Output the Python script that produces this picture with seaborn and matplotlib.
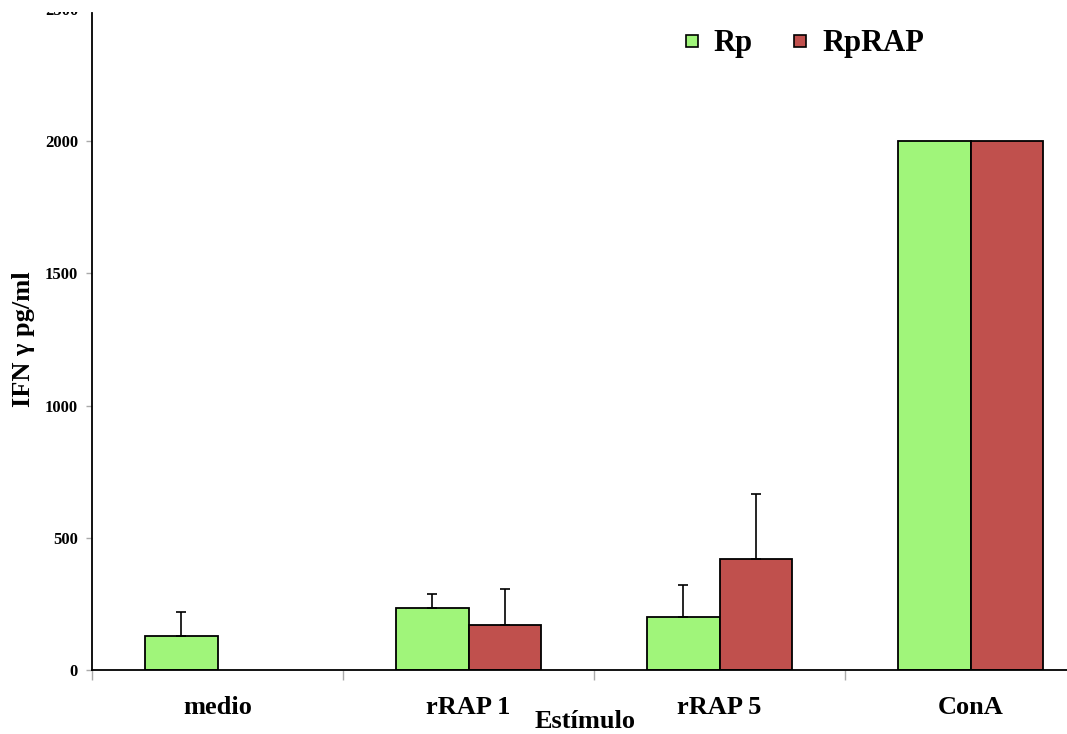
import matplotlib
matplotlib.use("Agg")
import matplotlib.pyplot as plt
import seaborn as sns
import pandas as pd
import numpy as np
from matplotlib.lines import Line2D
from matplotlib.transforms import Bbox

categories = ["medio", "rRAP 1", "rRAP 5", "ConA"]
groups = ["Rp", "RpRAP"]
rp_values = [128, 233, 199, 2000]
rprap_values = [np.nan, 169, 421, 2000]
rp_err = [90, 56, 124, 0]
rprap_err = [0, 139, 244, 0]
colors = ["#A0F57A", "#C0504D"]

sns.set_theme(style="white")
plt.rcParams['font.family'] = ['Liberation Serif', 'DejaVu Serif']
plt.rcParams['font.weight'] = 'bold'
plt.rcParams['text.color'] = 'black'
plt.rcParams['axes.labelcolor'] = 'black'
plt.rcParams['xtick.color'] = 'black'
plt.rcParams['ytick.color'] = 'black'

df = pd.DataFrame({
    "Estimulo": categories * 2,
    "grupo": [groups[0]] * 4 + [groups[1]] * 4,
    "valor": rp_values + rprap_values,
})

fig = plt.figure(figsize=(10.67, 7.34), dpi=100)
W, H = 1067, 734
left, right, top, bottom = 92, 1096, 9, 670
ax = fig.add_axes([left / W, 1 - bottom / H, (right - left) / W, (bottom - top) / H])

sns.barplot(data=df, x="Estimulo", y="valor", hue="grupo", palette=colors,
            order=categories, hue_order=groups, errorbar=None, width=0.574,
            edgecolor="black", linewidth=1.3, saturation=1, ax=ax, legend=False)

errs = [rp_err, rprap_err]
vals = [rp_values, rprap_values]
for ci, cont in enumerate(ax.containers[:2]):
    for bar in cont:
        xc = bar.get_x() + bar.get_width() / 2
        i = int(round(xc))
        v = vals[ci][i]
        e = errs[ci][i]
        if np.isnan(v) or e == 0:
            continue
        ax.errorbar([xc], [v], yerr=[[0], [e]], fmt="none", ecolor="black",
                    elinewidth=1.2, capsize=3.5, capthick=1.2, zorder=3)

ax.set_xlim(-0.5, 3.5)
ax.set_ylim(0, 2500)
ax.set_yticks([0, 500, 1000, 1500, 2000, 2500])
ax.set_yticklabels(["0", "500", "1000", "1500", "2000", "2500"], fontsize=12, fontweight="bold")
ax.set_xticks(range(4))
ax.set_xticklabels(categories, fontsize=19, fontweight="bold")
ax.set_xticks([-0.5, 0.5, 1.5, 2.5, 3.5], minor=True)
ax.tick_params(axis="x", which="both", bottom=True)
ax.tick_params(axis="y", which="both", left=True)
ax.tick_params(axis="x", which="major", length=0, pad=19)
ax.tick_params(axis="x", which="minor", length=7, color="#aaaaaa", direction="out", width=1)
ax.tick_params(axis="y", which="major", length=4, color="#aaaaaa", direction="out", width=1, pad=6)
ax.spines["left"].set_bounds(0, 2485)

# the top tick label is cut off in the reference
fig.canvas.draw()
ax.yaxis.get_major_ticks()[-1].tick1line.set_visible(False)
for lab in ax.get_yticklabels():
    if lab.get_text() == "2500":
        lab.set_clip_on(True)
        lab.set_clip_box(Bbox.from_extents(0, 0, W, H - 12))

for s in ["top", "right"]:
    ax.spines[s].set_visible(False)
for s in ["left", "bottom"]:
    ax.spines[s].set_color("black")
    ax.spines[s].set_linewidth(1.3)

ax.set_ylabel("IFN γ pg/ml", fontsize=19, fontweight="bold")
ax.yaxis.set_label_coords(-57 / (right - left), (670 - 339) / (bottom - top))
ax.set_xlabel("Estímulo", fontsize=19, fontweight="bold")
ax.xaxis.set_label_coords((585 - left) / (right - left), -40 / (bottom - top))

handles = [Line2D([], [], marker="s", linestyle="", markersize=8, markerfacecolor=c,
                  markeredgecolor="black", markeredgewidth=1.2) for c in colors]
fig.legend(handles, groups, loc="center left", bbox_to_anchor=(657 / W, 1 - 44 / H),
           ncol=2, frameon=False, prop={"size": 22, "weight": "bold", "family": "Liberation Serif"},
           handlelength=0.5, handletextpad=0.46, columnspacing=1.3)

fig.savefig("out.png", dpi=100)
